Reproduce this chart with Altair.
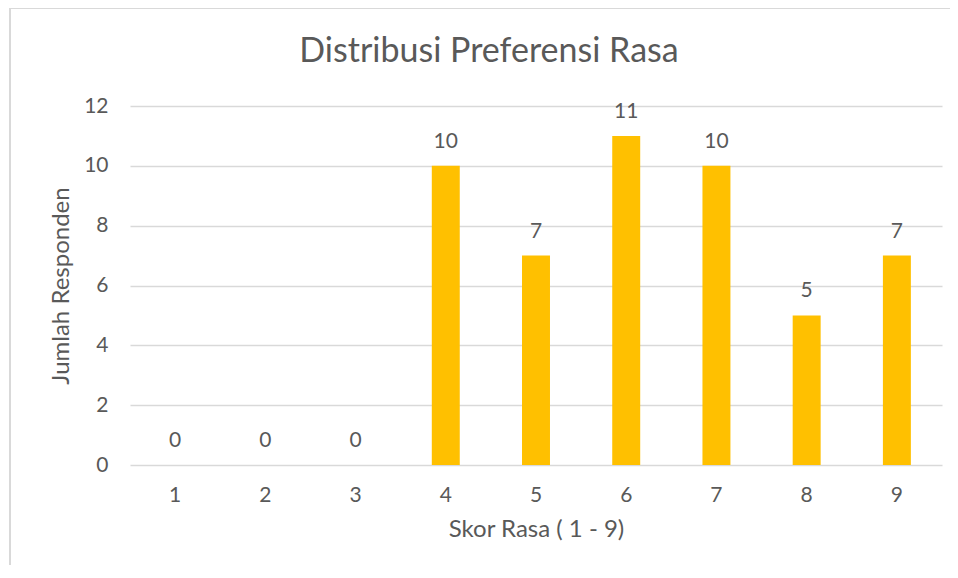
import altair as alt
import pandas as pd

scores = ["1", "2", "3", "4", "5", "6", "7", "8", "9"]
counts = [0, 0, 0, 10, 7, 11, 10, 5, 7]
y_ticks = [0, 2, 4, 6, 8, 10, 12]
title_text = "Distribusi Preferensi Rasa"

df = pd.DataFrame({"skor": scores, "jumlah": counts})

FONT = "Lato"
TXT = "#595959"
GRID = "#d9d9d9"

x_enc = alt.X(
    "skor:N",
    sort=scores,
    title="Skor Rasa ( 1 - 9)",
    scale=alt.Scale(paddingInner=0.69, paddingOuter=0.345),
    axis=alt.Axis(
        labelAngle=0, labelFontSize=21, labelColor=TXT, labelFont=FONT,
        titleFontSize=24, titleColor=TXT, titleFont=FONT, titleFontWeight="normal",
        titlePadding=12, labelPadding=19, ticks=False, domain=False, grid=False,
    ),
)
y_enc = alt.Y(
    "jumlah:Q",
    title="Jumlah Responden",
    scale=alt.Scale(domain=[0, 12], nice=False),
    axis=alt.Axis(
        values=y_ticks, labelFontSize=21, labelColor=TXT, labelFont=FONT,
        titleFontSize=24, titleColor=TXT, titleFont=FONT, titleFontWeight="normal",
        titlePadding=10, labelPadding=22, ticks=False, domain=False,
        grid=True, gridColor=GRID, gridWidth=1.6,
    ),
)

one = pd.DataFrame({"a": [0]})
frame_top = alt.Chart(one).mark_rule(color=GRID, strokeWidth=2).encode(
    x=alt.value(-121), x2=alt.value(820), y=alt.value(-98)
)
frame_left = alt.Chart(one).mark_rect(color=GRID).encode(
    x=alt.value(-121), x2=alt.value(-119), y=alt.value(-98), y2=alt.value(459)
)
title = alt.Chart(pd.DataFrame({"t": [title_text]})).mark_text(
    font=FONT, fontSize=34, color=TXT, baseline="alphabetic", align="center"
).encode(x=alt.value(359), y=alt.value(-44), text="t:N")

bars = alt.Chart(df).mark_bar(color="#FFC000").encode(x=x_enc, y=y_enc)

labels = alt.Chart(df).mark_text(
    font=FONT, fontSize=21, color=TXT, baseline="alphabetic", dy=-18
).encode(x=alt.X("skor:N", sort=scores), y="jumlah:Q", text="jumlah:Q")

chart = alt.layer(frame_top, frame_left, title, bars, labels).properties(
    width=812,
    height=359,
    autosize=alt.AutoSizeParams(type="none"),
    padding={"left": 122, "top": 98, "right": 8, "bottom": 100},
).configure_view(stroke=None)

chart.save("out.html", embed_options={"renderer": "svg", "actions": False})
